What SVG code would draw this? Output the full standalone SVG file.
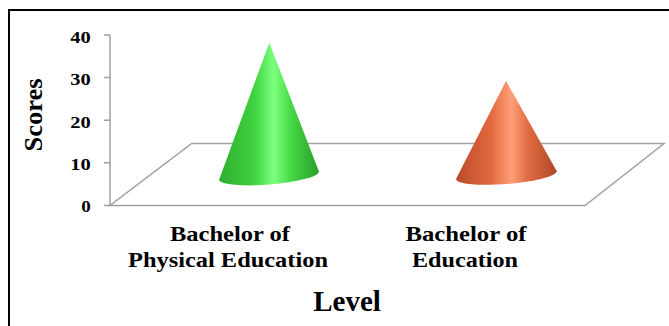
<svg xmlns="http://www.w3.org/2000/svg" width="669" height="326" viewBox="0 0 669 326">
<style>
.t{font-family:"Liberation Serif","Times New Roman",serif;font-weight:bold;fill:#000}
.tick{font-size:16px;text-anchor:end}
.cat{font-size:21px;text-anchor:middle}
.ax{stroke:#a0a0a0;stroke-width:1.5;fill:none}
</style>
<defs>
<linearGradient id="gGreen" x1="0" y1="0" x2="1" y2="0">
<stop offset="0" stop-color="#2fae2f"/>
<stop offset="0.35" stop-color="#3fd23f"/>
<stop offset="0.55" stop-color="#7dff7d"/>
<stop offset="0.72" stop-color="#45d845"/>
<stop offset="1" stop-color="#2a9e2a"/>
</linearGradient>
<linearGradient id="gOrange" x1="0" y1="0" x2="1" y2="0">
<stop offset="0" stop-color="#b94c29"/>
<stop offset="0.35" stop-color="#e2693f"/>
<stop offset="0.55" stop-color="#ff9f78"/>
<stop offset="0.72" stop-color="#e06a42"/>
<stop offset="1" stop-color="#b04626"/>
</linearGradient>
</defs>
<rect width="669" height="326" fill="#fff"/>
<g id="frame">
<path d="M9,326 V10 H669" fill="none" stroke="#000" stroke-width="2"/>
</g>
<g id="axes">
<path class="ax" d="M110,35 V205.5"/>
<path class="ax" d="M104,35 H110 M104,77.6 H110 M104,120.2 H110 M104,162.8 H110 M104,205.5 H110"/>
<path class="ax" d="M110,205.5 H585 L664,143.5 H191.7 Z"/>
</g>
<g id="y-labels">
<text class="t tick" x="90.7" y="42.5" textLength="20.5" lengthAdjust="spacingAndGlyphs">40</text>
<text class="t tick" x="90.7" y="85.1" textLength="20.5" lengthAdjust="spacingAndGlyphs">30</text>
<text class="t tick" x="90.7" y="127.7" textLength="20.5" lengthAdjust="spacingAndGlyphs">20</text>
<text class="t tick" x="90.7" y="170.3" textLength="20.5" lengthAdjust="spacingAndGlyphs">10</text>
<text class="t tick" x="90.7" y="212" textLength="9.5" lengthAdjust="spacingAndGlyphs">0</text>
</g>
<g id="cone-bpe">
<path d="M269.3,42.7 L219,180 A50.2,9 -4.7 0 0 319,171.7 Z" fill="url(#gGreen)"/>
</g>
<g id="cone-be">
<path d="M506,81 L456,179 A50.3,9 -4.5 0 0 556.7,171 Z" fill="url(#gOrange)"/>
</g>
<g id="x-labels">
<text class="t cat" x="230" y="240.5" textLength="120" lengthAdjust="spacingAndGlyphs">Bachelor of</text>
<text class="t cat" x="228" y="267" textLength="200" lengthAdjust="spacingAndGlyphs">Physical Education</text>
<text class="t cat" x="466" y="240.5" textLength="121" lengthAdjust="spacingAndGlyphs">Bachelor of</text>
<text class="t cat" x="465" y="267" textLength="106" lengthAdjust="spacingAndGlyphs">Education</text>
</g>
<g id="titles">
<text class="t" x="347" y="311" font-size="29" text-anchor="middle">Level</text>
<text class="t" transform="translate(42,115) rotate(-90)" font-size="25" text-anchor="middle" textLength="73" lengthAdjust="spacingAndGlyphs">Scores</text>
</g>
</svg>
